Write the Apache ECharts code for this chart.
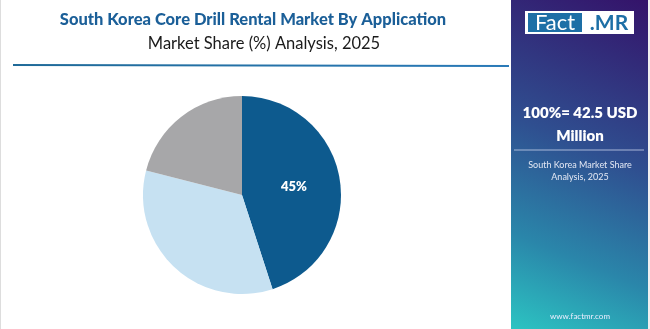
<!DOCTYPE html>
<html><head><meta charset="utf-8">
<script src="https://cdn.jsdelivr.net/npm/echarts@6/dist/echarts.min.js"></script>
<style>html,body{margin:0;padding:0;background:#fff}#c{width:650px;height:329px}</style>
</head><body><div id="c"></div>
<script>
const categories = ['Segment A', 'Segment B', 'Segment C'];
const shares = [45, 34, 21];
const colors = ['#0d5a8e', '#c6e1f2', '#a7a7a9'];
const titleText = 'South Korea Core Drill Rental Market By Application';
const subtitleText = 'Market Share (%) Analysis, 2025';
const totalText = ['100%= 42.5 USD', 'Million'];
const panelNote = ['South Korea Market Share', 'Analysis, 2025'];
const siteText = 'www.factmr.com';

const chart = echarts.init(document.getElementById('c'), null, {renderer: 'canvas'});
const F = 'Lato, "Open Sans", sans-serif';
chart.setOption({
  animation: false,
  title: [
    {text: titleText, left: 248, top: 6, textAlign: 'center',
     textStyle: {fontFamily: F, fontWeight: 900, fontSize: 16.5, color: '#1b5f98'}},
    {text: subtitleText, left: 259, top: 30, textAlign: 'center',
     textStyle: {fontFamily: F, fontWeight: 400, fontSize: 16.5, color: '#1a1a1a'}}
  ],
  graphic: [
    {type: 'rect', shape: {x: 0, y: 0, width: 1, height: 329}, style: {fill: '#dddddd'}},
    {type: 'line', shape: {x1: 13, y1: 65, x2: 509, y2: 66},
     style: {stroke: new echarts.graphic.LinearGradient(0, 0, 1, 0, [{offset: 0, color: '#1f6a98'}, {offset: 1, color: '#2a7ab8'}]), lineWidth: 2}},
    {type: 'rect', shape: {x: 511, y: 0, width: 137, height: 329},
     style: {fill: new echarts.graphic.LinearGradient(1, 0, 0, 1, [
       {offset: 0, color: '#34136a'}, {offset: 0.45, color: '#2f4f90'}, {offset: 0.75, color: '#2a86aa'}, {offset: 1, color: '#2cc4c2'}])}},
    {type: 'rect', shape: {x: 648, y: 0, width: 2, height: 329}, style: {fill: '#f0f0f0'}},
    {type: 'rect', shape: {x: 525, y: 11, width: 109, height: 23}, style: {fill: '#ffffff'}},
    {type: 'rect', shape: {x: 528, y: 13, width: 54, height: 19}, style: {fill: '#1d6fa6'}},
    {type: 'text', x: 555, y: 23, style: {text: 'Fact', fill: '#fff', font: '400 22px ' + F, textAlign: 'center', textVerticalAlign: 'middle'}},
    {type: 'text', x: 609, y: 23, style: {text: '.MR', fill: '#1d6fa6', font: '700 21px ' + F, textAlign: 'center', textVerticalAlign: 'middle'}},
    {type: 'text', x: 580, y: 113, style: {text: totalText[0], fill: '#fff', font: '800 15px ' + F, textAlign: 'center', textVerticalAlign: 'middle'}},
    {type: 'text', x: 580, y: 136, style: {text: totalText[1], fill: '#fff', font: '800 15px ' + F, textAlign: 'center', textVerticalAlign: 'middle'}},
    {type: 'line', shape: {x1: 514, y1: 150, x2: 644, y2: 150}, style: {stroke: 'rgba(200,210,235,0.8)', lineWidth: 1}},
    {type: 'text', x: 580, y: 165, style: {text: panelNote[0], fill: '#e4e8f4', font: '400 9px ' + F, textAlign: 'center', textVerticalAlign: 'middle'}},
    {type: 'text', x: 580, y: 177, style: {text: panelNote[1], fill: '#e4e8f4', font: '400 9px ' + F, textAlign: 'center', textVerticalAlign: 'middle'}},
    {type: 'text', x: 580, y: 316, style: {text: siteText, fill: '#eef', font: '400 8px ' + F, textAlign: 'center', textVerticalAlign: 'middle'}}
  ],
  series: [{
    type: 'pie',
    center: [242, 195],
    radius: [0, 99],
    startAngle: 90,
    clockwise: true,
    label: {show: true, position: 'inside', fontFamily: F, fontWeight: 800, fontSize: 13, color: '#fff',
      formatter: p => p.dataIndex === 0 ? p.value + '%' : ''},
    labelLine: {show: false},
    itemStyle: {borderWidth: 0},
    data: categories.map((c, i) => ({name: c, value: shares[i], itemStyle: {color: colors[i]}}))
  }]
});
</script></body></html>
